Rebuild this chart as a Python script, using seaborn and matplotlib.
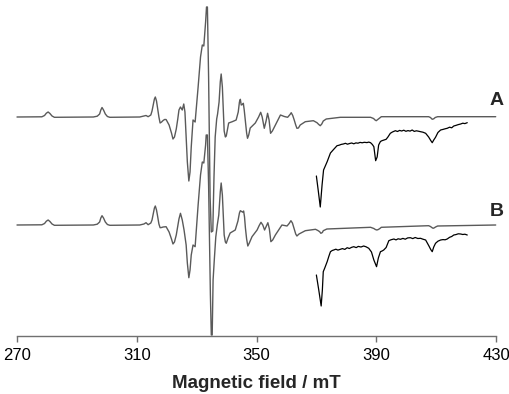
import numpy as np
import pandas as pd
import matplotlib
matplotlib.use("Agg")
import matplotlib.pyplot as plt
import seaborn as sns

# ---- data (field in mT, intensity in arbitrary units relative to trace baseline) ----
field_A = [270.0, 278.3, 279.2, 279.8, 280.4, 281.0, 281.7, 282.5, 295.5, 296.8, 297.6, 298.0,
           298.4, 298.9, 299.5, 300.2, 301.0,
           311.0, 312.4, 313.1, 313.8, 314.7, 315.1, 315.5, 315.9, 316.2, 316.6, 316.9, 317.4,
           317.8, 318.3, 318.8, 319.3, 319.8,
           320.8, 321.6, 322.1, 322.6, 323.2, 323.7, 324.1, 324.6, 325.2, 325.7, 326.1, 326.5,
           326.9, 327.4, 327.8, 328.2, 328.8,
           329.5, 330.5, 331.3, 331.9, 332.4, 333.0, 333.3, 333.6, 334.0, 334.5, 334.9, 335.4,
           335.8, 336.2, 336.7, 337.0, 337.5, 337.9, 338.2, 338.6, 339.2, 339.6, 339.9, 340.7,
           341.9, 343.2, 343.9, 344.3, 344.6, 344.9, 345.3, 345.6, 345.9, 346.3, 346.7, 347.0,
           347.4, 347.9, 349.6, 350.7, 351.4, 351.9, 352.6, 353.2, 353.7, 354.2, 354.7, 355.3,
           356.3, 358.0, 359.3, 360.4, 361.2, 361.6, 362.1, 362.6, 363.1, 363.5, 364.0, 364.6,
           366.3, 369.0, 370.2, 370.8, 371.3, 371.8, 372.3, 373.3, 378.0, 388.1, 389.1, 389.6,
           390.0, 390.5, 390.9, 391.7, 407.5, 408.1, 408.7, 409.2, 409.7, 410.5, 429.9]
int_A = [0, 0.2, 1.5, 3.8, 5, 3.5, 1, -0.3, 0, 0.8, 3, 7,
         9.5, 7, 3, 0.5, -0.3,
         0, 1, 1.5, 0.3, 2, 6, 12, 18, 20, 16, 10, 0,
         -6, -5, -3.5, -2.5, -2.5,
         -8, -16, -22, -20, -12, -2, 7, 10, 7, 13, 5, -20,
         -45, -64, -55, -30, -3,
         -5, 30, 60, 72, 71, 95, 110, 110, 40, -80, -115, -114,
         -60, -20, -2, 3, 15, 35, 43, 30, -14, -20, -19, -6,
         -4.7, -3, 5, 15, 17.7, 12, 12.5, 13.7, 7, -5, -16, -21.3,
         -18, -11, -6, 0, 4.7, 0, -11.3, -4, 3.7, -3, -16.3, -14,
         -8, 2, 0.5, -0.3, 2.5, 4.3, 1.5, -3, -8, -11.3, -11, -8,
         -4.7, -3.7, -5.7, -7.5, -8.7, -7, -4, -2, -0.3, -0.3, -1.5, -3,
         -3.7, -2.5, -1.5, 0.3, 0.3, -0.5, -2.3, -1.8, -0.5, 0.3, 0.3]

field_B = [270.0, 278.3, 279.2, 279.8, 280.4, 281.0, 281.7, 282.5, 295.5, 296.8, 297.6, 298.0,
           298.4, 298.9, 299.5, 300.2, 301.0,
           311.0, 312.4, 313.1, 313.8, 314.7, 315.1, 315.5, 315.9, 316.2, 316.6, 316.9, 317.4,
           317.8, 318.3, 318.8, 319.3, 319.8,
           320.8, 321.6, 322.1, 322.6, 323.2, 323.7, 324.1, 324.6, 325.2, 325.8, 326.5,
           326.9, 327.4, 327.8, 328.2, 328.8,
           329.5, 330.5, 331.3, 331.9, 332.4, 333.0, 333.2, 333.6, 334.0, 334.6, 334.9, 335.2,
           335.5, 335.9, 336.4, 336.9, 337.4, 337.9, 338.2, 338.6, 339.2, 339.6, 339.9, 340.5,
           341.2, 342.9, 343.8, 344.3, 344.6, 345.1, 345.4, 345.7, 346.0, 346.3, 346.7, 347.1,
           347.6, 348.5, 350.2, 350.9, 351.5, 352.1, 352.7, 353.3, 353.8, 354.3, 354.8, 355.4,
           356.3, 358.5, 360.2, 360.9, 361.5, 362.0, 362.6, 363.1, 363.5, 364.2, 366.3, 369.7,
           370.5, 371.1, 371.5, 372.0, 372.3, 373.5, 388.1, 389.2, 389.7, 390.2, 390.7,
           391.2, 391.7, 407.5, 408.1, 408.6, 409.0, 409.4, 409.8, 410.5, 429.9]
int_B = [0, 0.2, 1.5, 3.8, 5, 3.5, 1, -0.3, 0, 0.8, 3, 7,
         9.3, 7, 3, 0.5, -0.3,
         0, 1, 2.3, 0.3, 2, 5, 11, 17, 19, 15, 10, 1,
         -2.7, -2.5, -2, -1.8, -1.7,
         -7, -14, -19, -17, -10, -1, 6, 11.7, 5, -5, -20,
         -38, -52.7, -45, -30, -20,
         -21.7, 20, 50, 63, 62, 80, 90, 90, 40, -70, -110, -110,
         -55, -35, -12, 0, 10, 33, 42, 30, -10, -17, -18.3, -13,
         -8, -5, 4, 12, 14.3, 13.3, 12.8, 14, 8, -3, -14, -21,
         -18, -11.7, -5, -0.5, 2.7, 0, -5, -1, 2.3, -4, -16.7, -15,
         -10, 0, -1, 1.5, 4.3, 2, -4, -9, -11, -9, -5.7, -4.3,
         -5.5, -6.7, -8.3, -7.5, -5.7, -4, -2.3, -3.5, -4.5, -5, -4.5,
         -3.5, -2.3, -0.7, -1.5, -2.6, -3.3, -2.8, -2, -1, 0]

field_A_zoom = [370.0, 370.6, 371.3, 371.9, 372.4, 373.6, 374.7, 375.8, 376.9, 377.6, 378.3,
                379.0, 379.7, 380.4, 381.1, 381.8, 382.5, 383.2, 383.9, 384.6, 385.3, 386.0,
                386.9, 387.5, 388.1, 388.7, 389.2, 389.8, 390.3, 390.8, 391.4, 391.9, 392.6,
                393.3, 393.9, 394.7, 395.4, 396.4, 397.1, 397.8, 398.5, 399.2, 399.9, 400.6,
                401.3, 402.0, 402.7, 403.4, 404.1, 404.8, 405.6, 406.5, 407.5, 408.2, 408.7,
                409.2, 409.8, 410.6, 411.5, 412.3, 413.0, 413.7, 414.5, 415.2, 415.9, 416.6,
                417.4, 418.2, 418.9, 419.6, 420.4]
int_A_zoom = [-59, -73, -90, -68, -53, -44.7, -36, -32.3, -28.7, -28.2, -27.4,
              -27.0, -26.3, -27.2, -26.5, -26.0, -26.8, -25.9, -26.2, -25.4, -25.8, -25.3,
              -25.6, -25.1, -25.7, -27.5, -29.7, -43.7, -40.0, -28.0, -24.5, -23.7, -23.0,
              -22.3, -20.0, -16.3, -15.0, -13.7, -14.5, -13.4, -14.0, -13.2, -14.3, -13.6,
              -14.1, -13.0, -14.4, -13.8, -14.2, -14.7, -15.2, -16.3, -20.0, -23.5, -25.7,
              -23.0, -20.3, -15.5, -13.0, -12.4, -11.8, -11.3, -10.2, -10.8, -9.0, -8.4,
              -7.6, -7.0, -6.2, -6.6, -5.7]

field_B_zoom = [370.0, 370.8, 371.6, 372.0, 372.3, 372.8, 373.6, 374.2, 374.7, 375.3, 375.8,
                376.5, 377.2, 378.0, 378.7, 379.5, 380.3, 381.0, 381.8, 382.5, 383.3, 384.0,
                384.9, 385.8, 386.6, 387.5, 388.4, 389.2, 390.1, 390.7, 391.4, 392.0, 392.5,
                393.3, 394.2, 394.9, 395.9, 396.6, 397.3, 398.1, 398.9, 399.7, 400.5, 401.4,
                402.2, 403.0, 403.9, 404.8, 405.6, 406.5, 407.6, 408.2, 408.7, 409.2, 409.8,
                410.6, 411.5, 412.3, 413.0, 413.7, 414.5, 415.2, 415.9, 416.6, 417.4, 418.2,
                418.9, 419.6, 420.4]
int_B_zoom = [-50, -65, -81, -65, -46.7, -43, -36.7, -31.0, -26.7, -25.5, -25.0,
              -24.2, -25.1, -24.3, -23.6, -24.4, -22.7, -23.5, -22.3, -21.7, -22.6, -21.4,
              -22.0, -21.0, -21.8, -23.3, -27.0, -35.0, -41.7, -33.0, -26.7, -25.9, -25.0,
              -22.5, -15.7, -14.8, -14.0, -14.9, -13.8, -14.3, -13.4, -14.2, -12.9, -12.7,
              -13.6, -12.5, -13.5, -13.3, -14.2, -15.0, -21.0, -24.5, -26.7, -22.0, -18.3,
              -16.2, -15.0, -14.6, -14.8, -14.0, -12.3, -11.5, -10.0, -9.6, -8.8, -9.0,
              -9.5, -9.2, -10.0]

offset_A = 219
offset_B = 111
x_ticks = [270, 310, 350, 390, 430]
x_label = "Magnetic field / mT"
trace_labels = ["A", "B"]

# ---- figure ----
sns.set_theme(style="white")
plt.rcParams['font.family'] = ['Liberation Sans', 'DejaVu Sans']

fig = plt.figure(figsize=(5.10, 3.94), dpi=100)
ax = fig.add_axes([17 / 510, 58 / 394, 479 / 510, 336 / 394])

traces = [
    (field_A, int_A, offset_A, "#5a5a5a", 1.0),
    (field_B, int_B, offset_B, "#5a5a5a", 1.0),
    (field_A_zoom, int_A_zoom, offset_A, "#000000", 0.9),
    (field_B_zoom, int_B_zoom, offset_B, "#000000", 0.9),
]
for fx, iy, off, col, lw in traces:
    df = pd.DataFrame({"field": fx, "signal": np.asarray(iy, dtype=float) + off})
    sns.lineplot(data=df, x="field", y="signal", sort=False, estimator=None,
                 color=col, lw=lw, ax=ax, clip_on=False,
                 solid_joinstyle="round", solid_capstyle="round")

ax.set_xlim(270, 430)
ax.set_ylim(0, 336)
ax.set_xticks(x_ticks)
ax.set_xticklabels([str(t) for t in x_ticks], fontsize=12)
ax.set_yticks([])
ax.set_ylabel("")
ax.set_xlabel(x_label, fontsize=13.5, fontweight="bold", labelpad=8)
for s in ["left", "right", "top"]:
    ax.spines[s].set_visible(False)
ax.spines["bottom"].set_color("#707070")
ax.spines["bottom"].set_linewidth(1.0)
ax.tick_params(axis="x", direction="out", length=4, width=1.0, color="#707070",
               pad=5, bottom=True, labelcolor="black")

ax.text(430.2, 235.5, trace_labels[0], fontsize=14, fontweight="bold", ha="center", va="center")
ax.text(430.2, 125, trace_labels[1], fontsize=14, fontweight="bold", ha="center", va="center")

fig.savefig("out.png", dpi=100)
